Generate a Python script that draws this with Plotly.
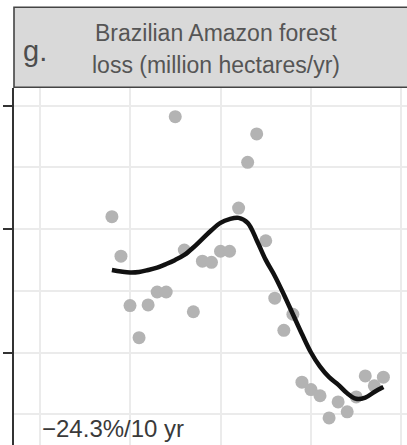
import plotly.graph_objects as go

years = list(range(1988, 2019))
forest_loss = [2.10, 1.78, 1.38, 1.12, 1.385, 1.49, 1.49, 2.91, 1.83, 1.33,
               1.74, 1.73, 1.82, 1.82, 2.17, 2.54, 2.77, 1.905, 1.44, 1.18,
               1.31, 0.76, 0.70, 0.65, 0.47, 0.60, 0.52, 0.64, 0.81, 0.73, 0.80]
smooth_fit = [1.668, 1.656, 1.648, 1.652, 1.668, 1.688, 1.717, 1.75, 1.79, 1.85,
              1.92, 1.99, 2.05, 2.08, 2.09, 2.05, 1.91, 1.75, 1.62, 1.47,
              1.31, 1.15, 1.00, 0.885, 0.80, 0.74, 0.67, 0.625, 0.635, 0.68, 0.72]
panel_label = "g."
title_lines = ["Brazilian Amazon forest", "loss (million hectares/yr)"]
trend_text = "\u221224.3%/10 yr"
x_grid = [1980, 1990, 2000, 2010, 2020]
y_ticks = [1, 2, 3]

W, H = 407, 445
ML, MT = 14, 88
PW, PH = W - ML, H - MT

def px_x(p):
    return (p - ML) / PW

def px_y(p):
    return (H - p) / PH

fig = go.Figure()
fig.add_trace(go.Scatter(x=years, y=forest_loss, mode="markers",
                         marker=dict(size=13, color="#b3b3b3", line=dict(width=0)),
                         hoverinfo="skip", showlegend=False))
fig.add_trace(go.Scatter(x=years, y=smooth_fit, mode="lines",
                         line=dict(color="#111111", width=4.5, shape="spline", smoothing=1.0),
                         hoverinfo="skip", showlegend=False))

font = "Liberation Sans, Arial, sans-serif"
fig.update_layout(
    width=W, height=H,
    margin=dict(l=ML, r=0, t=MT, b=0, pad=0),
    paper_bgcolor="white", plot_bgcolor="white",
    xaxis=dict(range=[1977.18, 2020.61], tickvals=x_grid, showticklabels=False,
               ticks="", showgrid=True, gridcolor="#ebebeb", gridwidth=1.8,
               zeroline=False, showline=False, fixedrange=True),
    yaxis=dict(range=[0.251, 3.142], tickvals=y_ticks, showticklabels=False,
               ticks="outside", ticklen=9, tickwidth=2, tickcolor="#333333",
               showgrid=True, gridcolor="#ebebeb", gridwidth=1.8,
               minor=dict(tickvals=[0.5, 1.5, 2.5], showgrid=True,
                          gridcolor="#ebebeb", gridwidth=1.8, ticks=""),
               zeroline=False, showline=True, linecolor="#333333", linewidth=1.6,
               fixedrange=True),
    shapes=[dict(type="rect", xref="paper", yref="paper",
                 x0=0, x1=1.05, y0=px_y(87.3), y1=px_y(7.3),
                 fillcolor="#d9d9d9", line=dict(color="#444444", width=1.6),
                 layer="above")],
    annotations=[
        dict(text=panel_label, xref="paper", yref="paper", x=px_x(21), y=px_y(51),
             xanchor="left", yanchor="middle", showarrow=False,
             font=dict(family=font, size=29, color="#4d4d4d")),
        dict(text=title_lines[0], xref="paper", yref="paper", x=px_x(216), y=px_y(33),
             xanchor="center", yanchor="middle", showarrow=False,
             font=dict(family=font, size=23, color="#555555")),
        dict(text=title_lines[1], xref="paper", yref="paper", x=px_x(216), y=px_y(65),
             xanchor="center", yanchor="middle", showarrow=False,
             font=dict(family=font, size=23, color="#555555")),
        dict(text=trend_text, xref="paper", yref="paper", x=px_x(40), y=px_y(428),
             xanchor="left", yanchor="middle", showarrow=False,
             font=dict(family=font, size=24, color="#3a3a3a")),
    ],
)

fig.write_html("out.html")
